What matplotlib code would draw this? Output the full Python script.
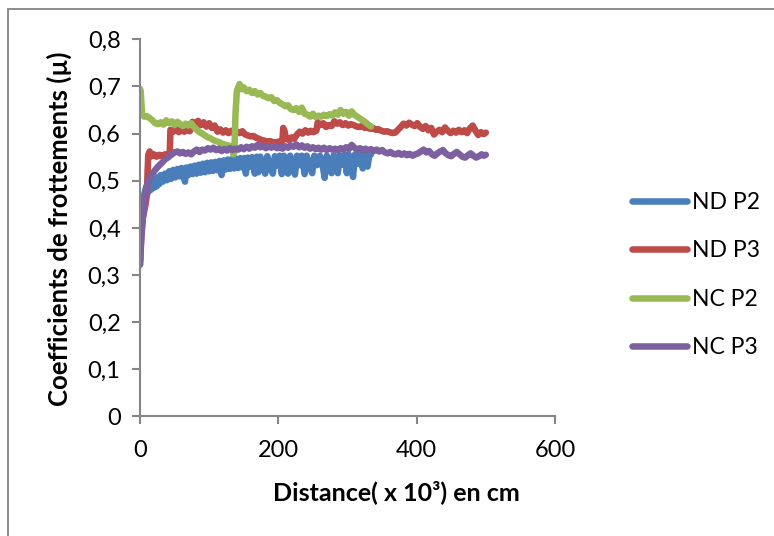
import matplotlib
matplotlib.use("Agg")
import matplotlib.pyplot as plt
from matplotlib.patches import Rectangle
from matplotlib.ticker import FixedLocator, FixedFormatter

plt.rcParams['font.family'] = ['Lato', 'DejaVu Sans']

# ---- data -------------------------------------------------------------
series_names = ["ND P2", "ND P3", "NC P2", "NC P3"]
series_colors = ["#4A7EBB", "#BE4B48", "#98B954", "#7D60A0"]

nd_p2_x = [0, 1, 2, 3, 4, 6, 8, 10, 12, 14, 16, 18, 20, 22, 24, 26, 28, 30, 33, 36,
           39, 42, 45, 48, 51, 54, 57, 60, 63, 65, 67, 70, 73, 76, 79, 82, 85, 88, 91, 94,
           97, 100, 103, 106, 109, 112, 115, 118, 121, 124, 127, 130, 133, 136, 139, 142,
           145, 148, 151, 153, 156, 159, 162, 166, 169, 171, 174, 178, 181, 184, 188, 192,
           195, 199, 202, 205, 208, 211, 214, 217, 221, 224, 227, 231, 234, 238, 241, 245,
           249, 252, 256, 260, 264, 267, 270, 274, 277, 280, 283, 286, 289, 293, 296, 299,
           302, 305, 308, 311, 315, 318, 322, 325, 329, 332, 334]
nd_p2_y = [0.322, 0.38, 0.42, 0.445, 0.455, 0.47, 0.482, 0.49, 0.476, 0.495, 0.481, 0.50,
           0.485, 0.503, 0.488, 0.508, 0.493, 0.512, 0.498, 0.515, 0.501, 0.52, 0.504, 0.523,
           0.507, 0.525, 0.509, 0.527, 0.511, 0.498, 0.528, 0.512, 0.530, 0.514, 0.532, 0.515,
           0.534, 0.517, 0.536, 0.518, 0.538, 0.52, 0.539, 0.521, 0.54, 0.522, 0.542, 0.512,
           0.543, 0.524, 0.545, 0.525, 0.546, 0.526, 0.547, 0.527, 0.548, 0.528, 0.548, 0.515,
           0.549, 0.53, 0.55, 0.515, 0.551, 0.518, 0.551, 0.531, 0.515, 0.552, 0.531, 0.515,
           0.552, 0.532, 0.553, 0.514, 0.553, 0.532, 0.515, 0.553, 0.532, 0.513, 0.553, 0.533,
           0.553, 0.514, 0.553, 0.533, 0.516, 0.553, 0.533, 0.553, 0.533, 0.506, 0.553, 0.533,
           0.516, 0.554, 0.534, 0.516, 0.554, 0.534, 0.555, 0.516, 0.555, 0.535, 0.508, 0.556,
           0.536, 0.556, 0.526, 0.557, 0.53, 0.558, 0.556]

nd_p3_x = [0, 2, 4, 6, 8, 10, 11, 12, 14, 17, 20, 24, 28, 32, 36, 40, 43, 44, 48, 52,
           56, 60, 64, 68, 72, 76, 80, 84, 88, 92, 96, 100, 104, 108, 112, 116, 120, 124,
           128, 132, 136, 140, 144, 148, 152, 156, 160, 164, 168, 172, 176, 180, 184, 188,
           192, 196, 200, 204, 206, 207, 209, 211, 215, 219, 223, 227, 231, 235, 239, 243,
           247, 251, 255, 257, 261, 265, 269, 273, 277, 281, 285, 289, 293, 297, 301, 305,
           309, 313, 317, 321, 325, 329, 333, 337, 341, 345, 349, 353, 357, 361, 365, 369,
           373, 377, 381, 385, 389, 393, 397, 401, 405, 409, 413, 417, 421, 425, 429, 433,
           437, 441, 445, 449, 453, 457, 461, 465, 469, 473, 477, 481, 485, 489, 493, 497, 500]
nd_p3_y = [0.33, 0.39, 0.42, 0.435, 0.45, 0.47, 0.52, 0.555, 0.562, 0.552, 0.556, 0.551,
           0.555, 0.552, 0.556, 0.553, 0.557, 0.608, 0.604, 0.611, 0.603, 0.607, 0.604,
           0.609, 0.605, 0.625, 0.62, 0.627, 0.618, 0.624, 0.615, 0.622, 0.612, 0.617, 0.604,
           0.609, 0.602, 0.607, 0.601, 0.606, 0.600, 0.604, 0.601, 0.605, 0.598, 0.596,
           0.594, 0.595, 0.591, 0.589, 0.586, 0.585, 0.583, 0.584, 0.582, 0.580, 0.583,
           0.581, 0.585, 0.612, 0.605, 0.59, 0.586, 0.592, 0.589, 0.598, 0.604, 0.600, 0.607,
           0.602, 0.606, 0.603, 0.606, 0.624, 0.618, 0.622, 0.614, 0.618, 0.616, 0.626, 0.621,
           0.624, 0.618, 0.622, 0.617, 0.62, 0.618, 0.615, 0.614, 0.616, 0.612, 0.613, 0.610,
           0.612, 0.608, 0.609, 0.606, 0.604, 0.605, 0.603, 0.601, 0.602, 0.608, 0.614, 0.621,
           0.617, 0.623, 0.619, 0.616, 0.622, 0.614, 0.61, 0.616, 0.607, 0.612, 0.598, 0.604,
           0.608, 0.603, 0.613, 0.606, 0.601, 0.606, 0.602, 0.608, 0.603, 0.607, 0.601, 0.611,
           0.617, 0.606, 0.597, 0.603, 0.599, 0.602]

nc_p2_x = [0, 1, 2, 3, 6, 10, 14, 18, 22, 26, 30, 34, 38, 42, 46, 50, 54, 58, 62, 66,
           70, 74, 78, 82, 86, 90, 94, 98, 102, 106, 110, 114, 118, 122, 126, 130, 133, 135,
           136.5, 138, 140, 142, 144, 147, 150, 154, 158, 162, 166, 170, 174, 178, 182, 186,
           190, 194, 198, 202, 206, 210, 214, 218, 222, 226, 230, 234, 238, 242, 246, 250,
           254, 258, 262, 266, 270, 274, 278, 282, 286, 290, 294, 298, 302, 306, 310, 314,
           318, 322, 326, 330, 334]
nc_p2_y = [0.695, 0.69, 0.665, 0.642, 0.636, 0.637, 0.633, 0.628, 0.622, 0.620, 0.624,
           0.619, 0.628, 0.622, 0.626, 0.618, 0.625, 0.620, 0.616, 0.621, 0.617, 0.622,
           0.614, 0.608, 0.603, 0.600, 0.596, 0.592, 0.590, 0.586, 0.584, 0.582, 0.579,
           0.577, 0.575, 0.574, 0.570, 0.556, 0.560, 0.640, 0.690, 0.698, 0.705, 0.694,
           0.698, 0.690, 0.693, 0.686, 0.690, 0.683, 0.686, 0.680, 0.678, 0.675, 0.677,
           0.669, 0.671, 0.665, 0.662, 0.658, 0.660, 0.652, 0.650, 0.654, 0.646, 0.655,
           0.642, 0.640, 0.636, 0.642, 0.635, 0.638, 0.636, 0.640, 0.637, 0.641, 0.638,
           0.645, 0.640, 0.650, 0.642, 0.646, 0.638, 0.647, 0.640, 0.636, 0.632, 0.628,
           0.624, 0.619, 0.615]

nc_p3_x = [0, 2, 4, 6, 8, 10, 13, 17, 21, 26, 31, 36, 41, 46, 50, 54, 58, 62, 66, 70,
           74, 78, 82, 86, 90, 94, 98, 102, 106, 110, 114, 118, 122, 126, 130, 134, 138,
           142, 146, 150, 154, 158, 162, 166, 170, 174, 178, 182, 186, 190, 194, 198, 202,
           206, 210, 214, 218, 222, 226, 230, 234, 238, 242, 246, 250, 254, 258, 262, 266,
           270, 274, 278, 282, 286, 290, 294, 298, 302, 306, 310, 314, 318, 322, 326, 330,
           334, 338, 342, 346, 350, 354, 358, 362, 366, 370, 374, 378, 382, 386, 390, 394,
           398, 402, 406, 410, 414, 418, 422, 426, 430, 434, 438, 442, 446, 450, 454, 458,
           462, 466, 470, 474, 478, 482, 486, 490, 494, 497, 500]
nc_p3_y = [0.322, 0.38, 0.42, 0.445, 0.47, 0.49, 0.503, 0.513, 0.521, 0.53, 0.537, 0.545,
           0.55, 0.556, 0.56, 0.562, 0.558, 0.561, 0.557, 0.56, 0.556, 0.562, 0.566, 0.561,
           0.566, 0.564, 0.569, 0.566, 0.570, 0.565, 0.568, 0.563, 0.567, 0.564, 0.569,
           0.565, 0.568, 0.566, 0.571, 0.567, 0.572, 0.568, 0.573, 0.570, 0.576, 0.571,
           0.574, 0.569, 0.573, 0.570, 0.574, 0.569, 0.572, 0.568, 0.573, 0.570, 0.575,
           0.572, 0.577, 0.571, 0.575, 0.57, 0.573, 0.568, 0.571, 0.567, 0.570, 0.566,
           0.570, 0.565, 0.569, 0.566, 0.568, 0.564, 0.569, 0.566, 0.571, 0.567, 0.576,
           0.570, 0.566, 0.569, 0.565, 0.568, 0.564, 0.567, 0.563, 0.566, 0.562, 0.565,
           0.560, 0.558, 0.561, 0.557, 0.556, 0.559, 0.555, 0.558, 0.554, 0.557, 0.553,
           0.556, 0.558, 0.562, 0.566, 0.560, 0.563, 0.556, 0.553, 0.558, 0.562, 0.565,
           0.558, 0.554, 0.552, 0.557, 0.561, 0.556, 0.551, 0.549, 0.554, 0.558, 0.553,
           0.549, 0.552, 0.556, 0.553, 0.555]

x_ticks = [0, 200, 400, 600]
x_tick_labels = ["0", "200", "400", "600"]
y_ticks = [0, 0.1, 0.2, 0.3, 0.4, 0.5, 0.6, 0.7, 0.8]
y_tick_labels = ["0", "0,1", "0,2", "0,3", "0,4", "0,5", "0,6", "0,7", "0,8"]

x_title = "Distance( x 10³) en cm"
y_title = "Coefficients de frottements (µ)"

# ---- figure -----------------------------------------------------------
fig = plt.figure(figsize=(7.74, 5.36), dpi=100)
fig.patch.set_facecolor("white")

# outer chart-area frame
fig.patches.append(Rectangle((8 / 774, -0.2), 1.3, 1.2 - 9 / 536,
                             transform=fig.transFigure, fill=False,
                             edgecolor="#8C8C8C", linewidth=1.4))

ax = fig.add_axes([140 / 774, 1 - 416.4 / 536, 415 / 774, 377.1 / 536])

all_series = [(nd_p2_x, nd_p2_y), (nd_p3_x, nd_p3_y),
              (nc_p2_x, nc_p2_y), (nc_p3_x, nc_p3_y)]
for (xs, ys), name, color in zip(all_series, series_names, series_colors):
    ax.plot(xs, ys, color=color, linewidth=4.7, label=name,
            solid_joinstyle="round", solid_capstyle="round")

ax.set_xlim(0, 600)
ax.set_ylim(0, 0.8)

ax.xaxis.set_major_locator(FixedLocator(x_ticks))
ax.xaxis.set_major_formatter(FixedFormatter(x_tick_labels))
ax.yaxis.set_major_locator(FixedLocator(y_ticks))
ax.yaxis.set_major_formatter(FixedFormatter(y_tick_labels))

for side in ("top", "right"):
    ax.spines[side].set_visible(False)
for side in ("left", "bottom"):
    ax.spines[side].set_color("#868686")
    ax.spines[side].set_linewidth(1.5)

ax.tick_params(axis="both", direction="out", length=6, width=1.5,
               color="#868686", labelsize=17, labelcolor="black")
ax.tick_params(axis="y", pad=8)
ax.tick_params(axis="x", pad=11)

ax.set_xlabel(x_title, fontsize=18, fontweight="bold")
ax.set_ylabel(y_title, fontsize=18.5, fontweight="bold")
ax.xaxis.set_label_coords(0.618, -0.2)
ax.xaxis.label.set_verticalalignment("center")
ax.yaxis.set_label_coords(-0.195, 0.497)
ax.yaxis.label.set_verticalalignment("center")

leg = ax.legend(loc="center left", bbox_to_anchor=(632 / 774, 1 - 275 / 536),
                bbox_transform=fig.transFigure, frameon=False, fontsize=16.5,
                handlelength=2.4, handletextpad=0.2, labelspacing=1.2,
                borderpad=0, borderaxespad=0)
for line in leg.get_lines():
    line.set_linewidth(4.7)
    line.set_solid_capstyle("round")

fig.savefig("out.png", dpi=100, facecolor="white")
